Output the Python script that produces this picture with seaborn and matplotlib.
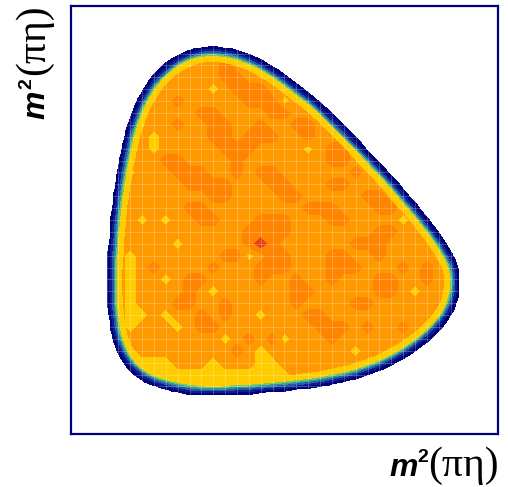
import numpy as np
import matplotlib
matplotlib.use("Agg")
import matplotlib.pyplot as plt
from matplotlib.path import Path
from matplotlib.patches import PathPatch
import seaborn as sns

# Axis range of both invariant masses squared (GeV^2)
m2_lo, m2_hi = 0.45, 0.69
n_nodes = 37

# Edge of the populated region in the m^2(pi eta) plane (GeV^2)
edge_x = [0.5293, 0.5411, 0.5529, 0.5641, 0.5753, 0.5860, 0.6001, 0.6141,
          0.6282, 0.6422, 0.6529, 0.6591, 0.6630, 0.6641, 0.6636, 0.6608,
          0.6557, 0.6478, 0.6372, 0.6237, 0.6079, 0.5888, 0.5703, 0.5506,
          0.5309, 0.5175, 0.5045, 0.4944, 0.4860, 0.4804, 0.4770, 0.4753,
          0.4747, 0.4753, 0.4764, 0.4781, 0.4809, 0.4849, 0.4905, 0.4983,
          0.5085, 0.5186]
edge_y = [0.6631, 0.6614, 0.6569, 0.6502, 0.6418, 0.6334, 0.6199, 0.6053,
          0.5902, 0.5739, 0.5605, 0.5509, 0.5436, 0.5364, 0.5291, 0.5207,
          0.5134, 0.5055, 0.4977, 0.4904, 0.4848, 0.4808, 0.4786, 0.4769,
          0.4758, 0.4764, 0.4792, 0.4825, 0.4887, 0.4971, 0.5072, 0.5201,
          0.5336, 0.5498, 0.5661, 0.5818, 0.5992, 0.6182, 0.6339, 0.6468,
          0.6564, 0.6614]

# Event density per bin, top row first (5 low, 6 typical, 7 high, 9 peak)
density_rows = [
    "6666666666666666666666666666666666666",
    "6666666666666666666666666666666666666",
    "6666666666666666666666666666666666666",
    "6666666666666666666666666666666666666",
    "6666666666666666666666666666666666666",
    "6666666666666766666666666666666666666",
    "6666666666666776666666666666666666666",
    "6666666666665677766666666666666666666",
    "6666666667666667775666666666666666666",
    "6666666666677666677666666666666666666",
    "6666666667667766766776666666666666666",
    "6666666566667767776676666666666666666",
    "6666666566666777666656776666666666666",
    "6666666677666676666666776666666666666",
    "6666656667776676776666667666666666666",
    "6666666666777766677666776666666666666",
    "6666666666667766667766666776666666666",
    "6666666666776666666677766677666666666",
    "6666665656677666777666776666566666666",
    "6666666666666667777666666677666666666",
    "6666666665666667976666667776666666666",
    "6666656666666775677666776676666666666",
    "6666656766667666777666777666767666666",
    "6666656656776666766766766677667666666",
    "6666656666765666666776666677656666666",
    "6666656667766766666766667766666666666",
    "6666655656676766566677666666666666666",
    "6666656665677666666667776766766666666",
    "6666666666666567675666766666666666666",
    "6666656666666676566666665666666666666",
    "6666655556665666556666666666666666666",
    "6666655555555555555666556666666666666",
    "6666665555555556666666666666666666666",
    "6666666666666666666666666666666666666",
    "6666666666666666666666666666666666666",
    "6666666666666666666666666666666666666",
    "6666666666666666666666666666666666666",
]

# Band boundaries and fill colours
edge_levels = [0.25, 1.0, 1.8, 2.5, 3.1, 3.7, 5.5]
edge_colors = ["#00007a", "#0b1e8c", "#2458a3", "#3590a8", "#6ccc6a", "#ffcc00"]
body_levels = [0.0, 3.7, 5.5, 6.5, 8.0, 10.0]
body_colors = ["#6ccc6a", "#ffcc00", "#ff9900", "#ff8400", "#e8401a"]

sns.set_style("white")

nodes = np.linspace(m2_lo, m2_hi, n_nodes)
step = nodes[1] - nodes[0]
X, Y = np.meshgrid(nodes, nodes)
density = np.array([[int(ch) for ch in row] for row in density_rows], float)[::-1]

# Edge fall-off: share of a small square around each fine node inside the edge
edge_path = Path(np.column_stack([edge_x, edge_y]))
fine = np.linspace(m2_lo, m2_hi, (n_nodes - 1) * 4 + 1)
FX, FY = np.meshgrid(fine, fine)
win = 1.35 * step
sub = ((np.arange(10) + 0.5) / 10 - 0.5) * win
sx, sy = np.meshgrid(sub, sub)
sx, sy = sx.ravel(), sy.ravel()
pts = np.column_stack([(FX.ravel()[:, None] + sx[None, :]).ravel(),
                       (FY.ravel()[:, None] + sy[None, :]).ravel()])
cover = edge_path.contains_points(pts).reshape(FX.size, -1).mean(axis=1)
FZ = 6.0 * cover.reshape(FX.shape)

fig = plt.figure(figsize=(5.08, 4.87), dpi=100)
ax = fig.add_axes([71 / 508, 53 / 487, 427 / 508, 428 / 487])

body = ax.contourf(X, Y, density, levels=body_levels, colors=body_colors)
body.set_clip_path(PathPatch(edge_path, transform=ax.transData))
ax.contourf(FX, FY, FZ, levels=edge_levels, colors=edge_colors)

# faint bin seams
ax.vlines(nodes, m2_lo, m2_hi, colors="white", alpha=0.24, linewidth=0.7)
ax.hlines(nodes, m2_lo, m2_hi, colors="white", alpha=0.24, linewidth=0.7)

ax.set_xlim(m2_lo, m2_hi)
ax.set_ylim(m2_lo, m2_hi)
ax.set_xticks([])
ax.set_yticks([])
ax.set_xlabel("")
ax.set_ylabel("")
for sp in ax.spines.values():
    sp.set_color("#000080")
    sp.set_linewidth(1.6)
    sp.set_visible(True)

W, H = 508, 487


def fx(px):
    return px / W


def fy(py):
    return (H - py) / H


m_kw = dict(family="Liberation Sans", fontweight="bold", fontstyle="italic",
            color="black")
sup_kw = dict(family="Liberation Sans", fontweight="bold", color="black")
paren_kw = dict(family="Liberation Serif", color="black")

# x-axis title
fig.text(fx(389), fy(476), "m", fontsize=23, ha="left", va="baseline", **m_kw)
fig.text(fx(417), fy(462), "2", fontsize=14, ha="left", va="baseline", **sup_kw)
fig.text(fx(428), fy(476), "(πη)", fontsize=30, ha="left", va="baseline", **paren_kw)

# y-axis title
rot = dict(rotation=90, rotation_mode="anchor", ha="left", va="baseline")
fig.text(fx(44), fy(119), "m", fontsize=23, **rot, **m_kw)
fig.text(fx(31), fy(89), "2", fontsize=14, **rot, **sup_kw)
fig.text(fx(44), fy(75), "(πη)", fontsize=30, **rot, **paren_kw)

fig.savefig("out.png", dpi=100)
